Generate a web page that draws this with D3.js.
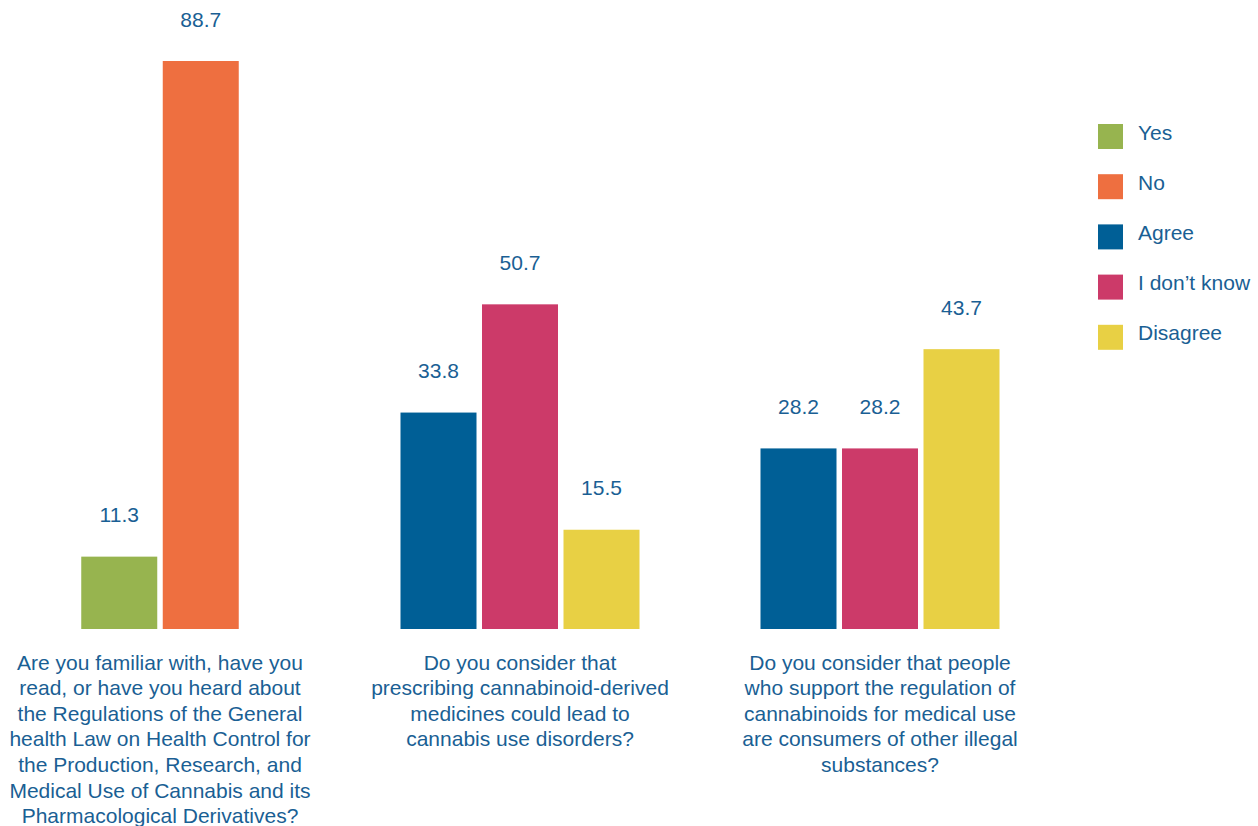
<!DOCTYPE html>
<html>
<head>
<meta charset="utf-8">
<script src="https://cdn.jsdelivr.net/npm/d3@7"></script>
<style>
  html, body { margin: 0; padding: 0; background: #ffffff; }
  svg { display: block; }
  text { font-family: "Liberation Sans", Arial, sans-serif; fill: #1a5f94; }
</style>
</head>
<body>
<svg id="chart" width="1258" height="826"></svg>
<script>
// Survey questions (category labels, pre-wrapped into lines)
const questions = ["Q1", "Q2", "Q3"];
const questionLines = [
  ["Are you familiar with, have you", "read, or have you heard about", "the Regulations of the General",
   "health Law on Health Control for", "the Production, Research, and",
   "Medical Use of Cannabis and its", "Pharmacological Derivatives?"],
  ["Do you consider that", "prescribing cannabinoid-derived", "medicines could lead to",
   "cannabis use disorders?"],
  ["Do you consider that people", "who support the regulation of", "cannabinoids for medical use",
   "are consumers of other illegal", "substances?"]
];

// Response options and their colours
const responses = ["Yes", "No", "Agree", "I don\u2019t know", "Disagree"];
const responseColors = ["#97b44f", "#ee6f40", "#005f96", "#cc3a69", "#e8d044"];

// Percentages per question
const q1Responses = ["Yes", "No"];
const q1Values = [11.3, 88.7];
const q2Responses = ["Agree", "I don\u2019t know", "Disagree"];
const q2Values = [33.8, 50.7, 15.5];
const q3Responses = ["Agree", "I don\u2019t know", "Disagree"];
const q3Values = [28.2, 28.2, 43.7];

const groups = [
  { q: questions[0], keys: q1Responses, values: q1Values, lines: questionLines[0] },
  { q: questions[1], keys: q2Responses, values: q2Values, lines: questionLines[1] },
  { q: questions[2], keys: q3Responses, values: q3Values, lines: questionLines[2] }
];

const svg = d3.select("#chart");
const fontSize = 21;
const lineH = 25.6;

const color = d3.scaleOrdinal().domain(responses).range(responseColors);

const x0 = d3.scaleBand().domain(questions).range([-20, 1060]).padding(0);
const y = d3.scaleLinear().domain([0, 88.7]).range([629, 61]);

const slot = 81.5;
groups.forEach(g => {
  const c = x0(g.q) + x0.bandwidth() / 2;
  const n = g.keys.length;
  const x1 = d3.scaleBand()
    .domain(g.keys)
    .range([c - n * slot / 2, c + n * slot / 2])
    .paddingInner(0.0675)
    .paddingOuter(0.03375);

  const gg = svg.append("g");
  const data = g.keys.map((k, i) => ({ key: k, value: g.values[i] }));

  gg.selectAll("rect").data(data).join("rect")
    .attr("x", d => x1(d.key))
    .attr("y", d => y(d.value))
    .attr("width", x1.bandwidth())
    .attr("height", d => y(0) - y(d.value))
    .attr("fill", d => color(d.key));

  gg.selectAll("text.val").data(data).join("text")
    .attr("class", "val")
    .attr("x", d => x1(d.key) + x1.bandwidth() / 2)
    .attr("y", d => y(d.value) - 34.5)
    .attr("text-anchor", "middle")
    .style("font-size", fontSize + "px")
    .text(d => d3.format(".1f")(d.value));

  const lbl = gg.append("text")
    .attr("text-anchor", "middle")
    .style("font-size", fontSize + "px");
  lbl.selectAll("tspan").data(g.lines).join("tspan")
    .attr("x", c)
    .attr("y", (d, i) => 669.5 + i * lineH)
    .text(d => d);
});

// Legend
const legend = svg.append("g");
const legItems = legend.selectAll("g").data(responses).join("g")
  .attr("transform", (d, i) => `translate(1098, ${124 + i * 50.2})`);
legItems.append("rect")
  .attr("width", 25).attr("height", 25)
  .attr("fill", d => color(d));
legItems.append("text")
  .attr("x", 40).attr("y", 15.5)
  .style("font-size", fontSize + "px")
  .text(d => d);
</script>
</body>
</html>
